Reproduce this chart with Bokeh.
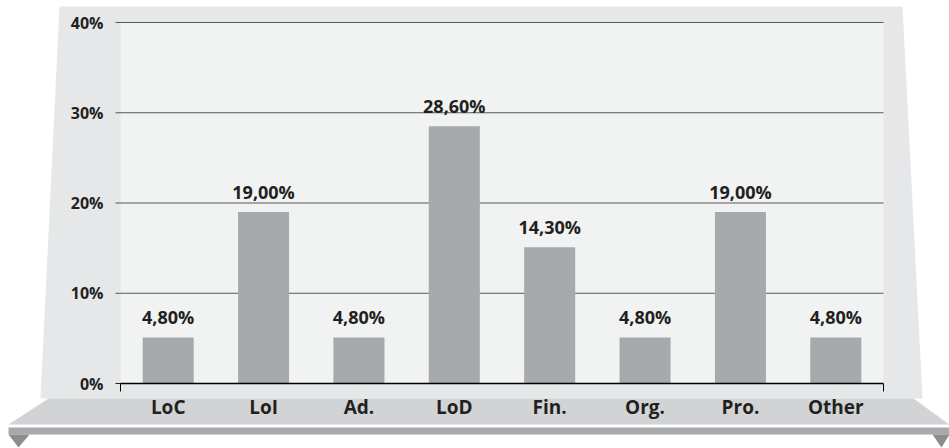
from bokeh.plotting import figure
from bokeh.models import Range1d, ColumnDataSource
from bokeh.core.properties import value
from bokeh.embed import file_html
from bokeh.resources import INLINE

# ---- data ----
categories = ["LoC", "LoI", "Ad.", "LoD", "Fin.", "Org.", "Pro.", "Other"]
bar_values = [5.1, 19.0, 5.1, 28.5, 15.1, 5.1, 19.0, 5.1]
value_labels = ["4,80%", "19,00%", "4,80%", "28,60%", "14,30%", "4,80%", "19,00%", "4,80%"]
y_ticks = [0, 10, 20, 30, 40]
y_tick_labels = ["0%", "10%", "20%", "30%", "40%"]

FONT = "Open Sans"
TXT = "#231f20"

# ---- layout (screen pixels) ----
W, H = 949, 448
FL, FT, FR, FB = 120, 22, 883, 383      # plot-area edges
N = len(categories)
YMAX = y_ticks[-1]
sx = (FR - FL) / N                      # px per category
sy = (FB - FT) / YMAX                   # px per percent

def px2x(px):
    return (px - FL) / sx

def px2y(py):
    return (FB - py) / sy

p = figure(width=W, height=H, output_backend="svg", toolbar_location=None,
           x_range=Range1d(px2x(0), px2x(W)), y_range=Range1d(px2y(H), px2y(0)),
           min_border=0, border_fill_color="white", background_fill_color="white",
           outline_line_color=None, x_axis_type=None, y_axis_type=None)
p.grid.visible = False

def poly(pxs, pys, color):
    p.patch([px2x(v) for v in pxs], [px2y(v) for v in pys],
            fill_color=color, line_color=None)

# wall, plot area, floor
poly([59, 902, 922, 40], [6, 6, 398, 398], "#e6e7e8")
p.quad(left=0, right=N, bottom=0, top=YMAX, fill_color="#f1f2f2", line_color=None)
poly([48, 913, 949, 8], [398, 398, 424, 424], "#d1d3d4")
poly([8, 949, 949, 8], [427, 427, 434, 434], "#a7a9ac")
poly([8, 29, 18], [434, 434, 447], "#8a8c8e")
poly([932, 949, 941], [434, 434, 447], "#8a8c8e")

# grid lines + y ticks
grid_y = y_ticks[1:]
p.segment(x0=[px2x(115)] * len(grid_y), x1=[N] * len(grid_y), y0=grid_y, y1=grid_y,
          line_color="#58595b", line_width=1)
p.segment(x0=[px2x(115)], x1=[0], y0=[0], y1=[0], line_color=TXT, line_width=1)

# bars
xs = [i + 0.5 for i in range(N)]
src = ColumnDataSource(dict(x=xs, top=bar_values, label=value_labels, cat=categories))
p.vbar(x="x", top="top", width=0.535, source=src, fill_color="#a7a9ac", line_color=None)
p.text(x="x", y="top", text="label", source=src, text_align="center",
       text_baseline="alphabetic", y_offset=-20, text_font=value(FONT),
       text_font_style="bold", text_font_size="18px", text_color=TXT)

# x axis line and end ticks
p.segment(x0=[0], x1=[N], y0=[0], y1=[0], line_color="black", line_width=1.5)
p.segment(x0=[0, N], x1=[0, N], y0=[0, 0], y1=[px2y(391)] * 2,
          line_color="black", line_width=1)

# axis labels
p.text(x=[px2x(103)] * len(y_ticks), y=y_ticks, text=y_tick_labels,
       text_align="right", text_baseline="middle", text_font=value(FONT),
       text_font_style="bold", text_font_size="16px", text_color=TXT)
p.text(x=xs, y=[px2y(406)] * N, text=categories, text_align="center",
       text_baseline="alphabetic", text_font=value(FONT),
       text_font_style="bold", text_font_size="19px", text_color=TXT)

open("out.html", "w").write(file_html(p, INLINE))
